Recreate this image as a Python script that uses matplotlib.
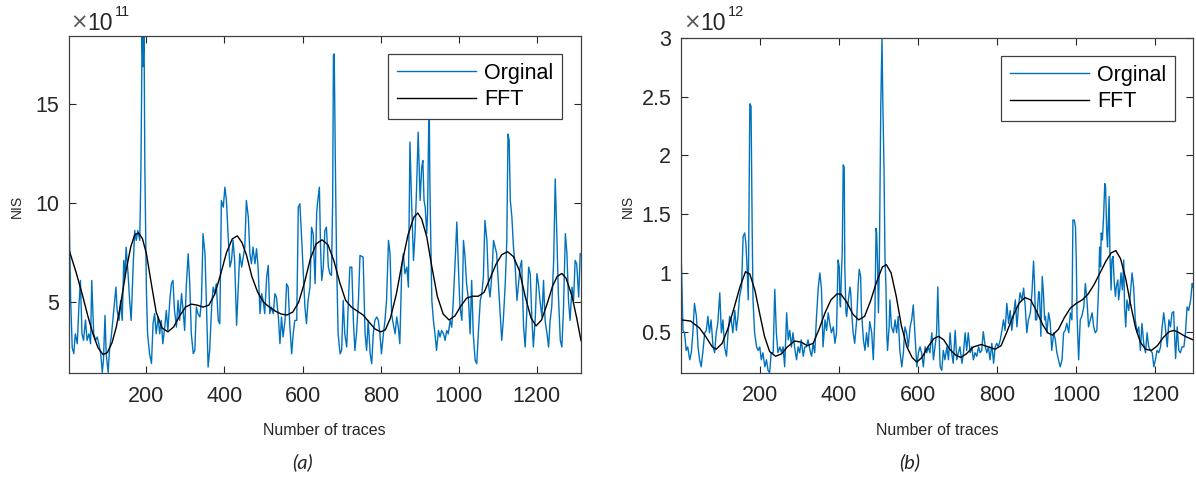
import matplotlib
matplotlib.use("Agg")
import matplotlib.pyplot as plt
from matplotlib import font_manager

# ---------------- data (panel a: units of 1e11, panel b: units of 1e12) ----------------
orig_a = [(1, 11.2), (3, 8.4), (6, 5.1), (10, 2.7), (14, 2.4), (18, 3.4), (23, 2.9), (27, 4.75), (31, 6.1), (35, 3.4),
          (39, 3.07), (44, 4.1), (48, 3.07), (53, 3.4), (57, 2.9), (60, 6.1), (65, 3.4), (70, 3.07), (74, 3.24), (78, 2.9),
          (83, 2.4), (87, 1.45), (90, 2.06), (94, 4.33), (97, 2.4), (102, 1.45), (106, 2.73), (110, 3.24), (114, 4.08), (119, 5.09),
          (122, 5.76), (125, 4.58), (130, 4.08), (134, 5.09), (138, 4.08), (142, 7.11), (145, 6.27), (148, 7.78), (153, 6.44), (157, 5.09),
          (161, 4.08), (166, 6.78), (170, 8.62), (174, 8.12), (178, 8.62), (183, 8.12), (186, 11.8), (189, 18.5), (191, 16.9), (194, 18.5),
          (196, 11.8), (200, 5.6), (203, 3.4), (208, 2.4), (213, 1.9), (217, 3.91), (221, 4.42), (225, 3.4), (230, 4.25), (234, 3.4),
          (238, 4.08), (242, 2.9), (247, 3.74), (251, 4.58), (255, 3.57), (260, 5.09), (264, 5.93), (268, 6.1), (272, 4.58), (277, 3.74),
          (281, 5.09), (285, 4.08), (290, 5.43), (294, 4.58), (298, 3.57), (302, 5.76), (307, 7.45), (311, 5.93), (315, 3.4), (320, 2.4),
          (324, 2.56), (328, 4.75), (332, 4.42), (337, 4.25),
          (341, 5.09), (345, 8.46), (350, 7.45), (354, 4.75), (358, 1.72), (362, 2.56), (367, 4.75), (371, 5.76), (375, 5.43), (379, 5.93),
          (384, 4.08), (388, 3.91), (392, 10.14), (397, 9.8), (401, 10.81), (405, 10.14), (409, 8.46), (414, 6.77), (418, 7.11), (422, 8.12),
          (426, 7.11), (431, 3.83), (435, 5.59), (439, 7.45), (444, 6.77), (448, 7.28), (452, 7.78), (456, 10.14), (461, 9.3), (465, 7.45),
          (469, 6.94), (473, 7.78), (478, 6.94), (482, 7.7), (486, 6.77), (491, 4.42), (495, 5.43), (499, 5.09), (503, 4.42), (508, 6.27),
          (512, 6.86), (516, 4.42), (520, 4.75), (525, 4.42), (529, 5.43), (533, 5.26), (538, 4.25), (542, 2.9), (546, 4.25), (550, 3.24),
          (555, 4.08), (559, 5.93), (563, 5.76), (567, 3.91), (572, 2.39), (576, 3.4), (580, 4.08), (585, 4.08), (589, 9.8), (593, 9.97),
          (597, 8.46), (602, 6.44), (606, 4.75), (610, 3.91), (614, 5.09), (619, 5.76), (623, 8.79), (627, 8.46), (632, 5.93), (636, 9.47),
          (638, 9.97), (643, 10.81), (646, 7.78), (649, 6.1), (653, 6.77), (657, 8.62), (661, 8.79), (666, 6.77), (670, 6.44), (674, 6.35),
          (677, 10.14), (679, 17.46), (681, 17.55), (684, 11.82), (687, 7.11), (691, 3.4), (696, 2.39), (700, 2.56), (704, 5.09), (708, 3.4),
          (713, 2.73), (717, 4.92), (721, 6.77), (726, 6.77), (730, 4.08), (734, 2.56), (738, 3.4), (743, 5.09),
          (747, 7.36), (755, 7.28), (760, 3.4), (764, 2.56), (768, 4.08), (773, 2.39), (777, 1.89), (781, 3.4), (785, 4.08), (790, 4.25),
          (794, 4.08), (798, 3.4), (802, 2.39), (807, 3.4), (811, 4.08), (815, 5.09), (820, 8.12), (824, 7.45), (828, 4.42), (832, 3.91),
          (837, 3.4), (841, 4.25), (845, 3.74), (849, 2.9), (854, 6.77), (858, 7.45), (862, 6.44), (867, 6.77), (871, 5.76), (875, 13.09),
          (879, 10.14), (884, 7.11), (888, 8.46), (892, 10.81), (896, 13.59), (901, 10.14), (905, 11.82), (908, 12.16), (911, 10.14), (914, 9.8),
          (918, 8.46), (920, 9.47), (924, 15.6), (926, 11.0), (928, 8.46), (931, 5.09), (935, 4.08), (939, 3.4), (943, 2.56), (948, 3.57),
          (952, 3.24), (956, 3.57), (961, 3.4), (965, 3.07), (969, 3.57), (973, 3.4), (978, 4.08), (982, 3.74), (986, 5.09), (990, 6.77),
          (995, 9.05), (999, 6.77), (1003, 4.75), (1008, 4.08), (1012, 8.12), (1016, 7.28), (1020, 5.93), (1025, 5.09), (1029, 3.4), (1033, 6.1),
          (1037, 3.4), (1042, 2.06), (1046, 1.89), (1050, 3.4), (1055, 5.09), (1059, 5.43), (1063, 6.27), (1067, 9.13), (1072, 8.12), (1076, 5.93),
          (1080, 5.26), (1085, 6.44), (1089, 8.12), (1093, 7.78), (1097, 7.45), (1102, 5.76), (1106, 4.42), (1110, 3.07), (1114, 4.08), (1119, 5.93),
          (1123, 8.12), (1126, 13.5), (1129, 13.17), (1132, 10.14), (1136, 9.3), (1140, 7.78), (1144, 6.94), (1149, 5.09), (1153, 5.93), (1157, 6.77),
          (1161, 7.11), (1166, 3.74), (1170, 2.73), (1174, 4.42), (1179, 6.77), (1183, 6.44), (1187, 4.25), (1191, 2.73), (1196, 4.25), (1200, 6.44),
          (1204, 5.93), (1208, 5.09), (1213, 4.25), (1217, 6.1), (1221, 4.08), (1226, 3.4), (1230, 2.73), (1234, 4.08), (1238, 4.75), (1243, 7.11),
          (1247, 11.23), (1251, 8.46), (1255, 5.43), (1260, 3.07), (1264, 2.73), (1268, 4.58), (1273, 8.46), (1277, 7.45), (1281, 5.09), (1285, 4.08),
          (1290, 5.76), (1294, 5.09), (1298, 7.11), (1302, 6.94), (1307, 5.26), (1311, 7.45)]

fft_a = [(1, 7.7), (20, 6.5), (37, 5.3), (50, 4.3), (63, 3.4), (76, 2.7), (89, 2.35), (100, 2.45), (112, 2.95), (123, 3.75),
         (135, 5.0), (148, 6.6), (160, 7.8), (170, 8.4), (180, 8.5), (190, 8.2), (200, 7.45), (212, 6.0), (225, 4.5), (240, 3.7),
         (255, 3.5), (270, 3.75), (285, 4.3), (300, 4.75), (315, 4.9), (330, 4.85), (345, 4.75), (360, 4.85), (375, 5.4), (390, 6.4),
         (405, 7.5), (420, 8.2), (433, 8.35), (445, 8.0), (456, 7.4), (470, 6.3), (485, 5.5), (500, 5.0), (515, 4.75), (530, 4.55),
         (545, 4.4), (560, 4.35), (575, 4.5), (590, 5.0), (605, 6.0), (620, 7.2), (635, 7.95), (650, 8.15), (665, 7.9), (680, 7.1),
         (695, 6.0), (710, 5.1), (725, 4.75), (740, 4.55), (755, 4.35), (770, 4.0), (785, 3.65), (800, 3.5), (812, 3.6), (825, 4.2),
         (840, 5.4), (855, 7.0), (870, 8.4), (885, 9.3), (895, 9.5), (905, 9.2), (918, 8.3), (930, 6.9), (945, 5.3), (960, 4.4),
         (975, 4.1), (990, 4.3), (1005, 4.8), (1020, 5.2), (1035, 5.3), (1050, 5.3), (1065, 5.5), (1080, 6.2), (1095, 6.9), (1110, 7.4),
         (1125, 7.55), (1140, 7.3), (1155, 6.6), (1170, 5.3), (1185, 4.2), (1198, 3.8), (1212, 4.1), (1226, 4.9), (1240, 5.8), (1252, 6.3),
         (1264, 6.45), (1275, 6.2), (1290, 5.3), (1302, 4.2), (1313, 3.05)]

orig_b = [(2, 1.08), (6, 0.51), (10, 0.49), (14, 0.34), (18, 0.37), (23, 0.26), (27, 0.32), (31, 0.49), (35, 0.74), (40, 0.63),
          (44, 0.37), (48, 0.26), (52, 0.20), (56, 0.32), (61, 0.49), (65, 0.51), (69, 0.63), (73, 0.49), (77, 0.60), (82, 0.37),
          (86, 0.32), (90, 0.49), (94, 0.57), (99, 0.83), (103, 0.49), (107, 0.60), (111, 0.37), (116, 0.29), (120, 0.49), (124, 0.63),
          (128, 0.60), (132, 0.49), (137, 0.68), (141, 0.51), (145, 0.63), (149, 0.80), (154, 0.88), (158, 1.31), (162, 1.34), (165, 1.25),
          (168, 1.05), (171, 0.77), (175, 2.44), (178, 2.42), (181, 1.34), (183, 0.77), (187, 0.49), (192, 0.37), (196, 0.34), (200, 0.37),
          (204, 0.26), (208, 0.32), (213, 0.20), (217, 0.26), (221, 0.17), (225, 0.15), (229, 0.32), (234, 0.32), (238, 0.86), (242, 0.49),
          (246, 0.32), (251, 0.37), (255, 0.32), (259, 0.37), (263, 0.20), (268, 0.66), (272, 0.43), (276, 0.51), (280, 0.37), (284, 0.49),
          (288, 0.37), (293, 0.26), (297, 0.37), (301, 0.32), (305, 0.43), (310, 0.29), (314, 0.37), (318, 0.37), (322, 0.43), (327, 0.34),
          (331, 0.29), (335, 0.40), (339, 0.32), (343, 0.60), (348, 0.88), (352, 1.0),
          (356, 0.86), (360, 0.37), (365, 0.60), (369, 0.51), (373, 0.66), (377, 0.57), (381, 0.49), (386, 0.54), (390, 0.40), (394, 0.49),
          (398, 1.11), (401, 1.05), (402.5, 0.77), (404, 0.71), (407, 1.05), (408.5, 1.17), (411, 1.92), (413.5, 1.9), (415, 1.05), (418, 0.66),
          (419.5, 0.63), (424, 0.77), (428, 0.88), (430, 0.83), (433, 0.63), (436, 0.49), (440, 0.40), (445, 0.60), (449, 0.91), (451.5, 1.03),
          (455, 0.97), (457, 0.68), (462, 0.43), (466, 0.34), (470, 0.49), (474, 0.37), (478, 0.585), (483, 0.49), (487, 0.26), (491, 0.63),
          (494, 1.38), (495.5, 1.34), (498, 1.05), (500, 0.66), (502, 1.0), (504, 1.735), (506, 2.445), (509, 3.0), (511, 2.47), (514, 1.905),
          (516.5, 1.14), (519, 0.88), (521, 0.49), (523, 0.34), (527, 0.54), (529, 0.77), (533, 0.54), (538, 0.49), (542, 0.60), (546, 0.49),
          (550, 0.63), (554, 0.34), (559, 0.20), (563, 0.32), (567, 0.54), (571, 0.49), (575.5, 0.37), (580, 0.54), (584, 0.60), (588, 0.727),
          (592, 0.49), (597, 0.20), (601, 0.32), (605, 0.37), (609, 0.32), (613.5, 0.20), (618, 0.37), (622, 0.32), (626, 0.37), (630, 0.32),
          (635, 0.49), (639, 0.26), (643, 0.37), (647, 0.49), (650, 0.88), (652, 0.60), (656, 0.20), (660, 0.17), (664, 0.34), (668, 0.26),
          (673, 0.37), (677, 0.26), (681, 0.49), (685, 0.32), (689, 0.23), (694, 0.51), (698, 0.26), (702, 0.32), (706, 0.37), (711, 0.23),
          (715, 0.32), (719, 0.49), (723, 0.34), (727, 0.49), (732, 0.32), (736, 0.37), (740, 0.26), (744, 0.32), (748.5, 0.29), (753, 0.37),
          (757, 0.32), (761, 0.34), (765, 0.50), (770, 0.37), (774, 0.32), (778, 0.37), (782, 0.26), (786.5, 0.40), (791, 0.23), (795, 0.37),
          (799, 0.40), (803, 0.37),
          (808, 0.43), (812, 0.51), (816, 0.60), (820, 0.51), (824.5, 0.74), (829, 0.57), (833, 0.68), (837, 0.51), (841, 0.63), (846, 0.77),
          (850, 0.54), (854, 0.71), (858, 0.83), (862.5, 0.77), (867, 0.87), (871, 0.71), (875, 0.49), (879, 0.60), (884, 0.66), (888, 0.83),
          (892, 1.10), (894.5, 0.91), (897, 0.60), (900, 0.60), (905, 0.84), (907, 0.83), (910.5, 0.46), (914, 0.97), (917, 0.83), (920, 0.60),
          (922, 0.63), (926, 0.49), (930, 0.66), (934, 0.585), (938, 0.34), (943, 0.49), (947, 0.43), (951, 0.32), (955, 0.26), (959.5, 0.20),
          (964, 0.26), (968, 0.49), (972, 0.51), (976, 0.57), (981, 0.49), (985, 0.66), (989, 0.60), (991.5, 1.45), (995, 1.45), (998, 1.39),
          (1000, 1.11), (1002, 0.63), (1006, 0.26), (1010, 0.60), (1014, 0.63), (1019, 0.71), (1023, 0.91), (1027, 0.77), (1031, 0.54), (1035.5, 0.60),
          (1040, 0.66), (1044, 0.54), (1048, 0.49), (1052, 0.51), (1056.5, 0.88), (1059, 1.22), (1061.5, 1.05), (1063, 1.34), (1066, 1.28), (1069, 1.48),
          (1072, 1.76), (1074, 1.735), (1077, 1.34), (1079, 1.22), (1083, 1.65), (1085, 1.17), (1088, 0.855), (1090, 1.11), (1093, 1.14), (1096, 0.91),
          (1099, 0.80), (1101, 0.88), (1105, 0.94), (1107, 0.77), (1110, 0.855), (1113, 1.0), (1116.5, 0.855), (1120, 1.11), (1122, 0.71), (1125, 0.54),
          (1128, 0.77), (1132.5, 0.68), (1137, 0.83), (1141, 1.0), (1145, 0.88), (1149, 0.60), (1154, 0.49), (1158, 0.54), (1162, 0.34), (1166, 0.57),
          (1170.5, 0.40), (1175, 0.32), (1179, 0.49), (1183, 0.37), (1187, 0.34), (1192, 0.32), (1196, 0.20), (1200, 0.26), (1204, 0.34), (1208.5, 0.32),
          (1213, 0.37), (1217, 0.54), (1221, 0.66), (1225, 0.54), (1230, 0.37), (1234, 0.60), (1238, 0.54), (1242, 0.66), (1246, 0.67), (1251, 0.27),
          (1255, 0.54), (1259, 0.34), (1263, 0.32), (1267.5, 0.37), (1272, 0.37), (1276, 0.49), (1280, 0.71), (1284, 0.68), (1289, 0.77), (1293, 0.91),
          (1295, 0.88)]

fft_b = [(1, 0.60), (25, 0.59), (48, 0.53), (65, 0.45), (80, 0.37), (90, 0.35), (105, 0.40), (120, 0.53), (135, 0.70), (150, 0.88),
         (164, 1.01), (175, 0.99), (188, 0.85), (200, 0.65), (212, 0.46), (225, 0.33), (240, 0.29), (255, 0.31), (270, 0.37), (288, 0.42),
         (305, 0.41), (320, 0.38), (335, 0.40), (350, 0.52), (365, 0.66), (380, 0.77), (395, 0.82), (405, 0.82), (420, 0.75), (435, 0.65),
         (450, 0.60), (465, 0.63), (480, 0.76), (495, 0.92), (510, 1.05), (520, 1.07), (532, 1.0), (545, 0.80), (558, 0.55), (572, 0.37),
         (585, 0.28), (597, 0.24), (610, 0.28), (625, 0.37), (640, 0.44), (652, 0.46), (665, 0.43), (680, 0.35), (695, 0.30), (708, 0.28),
         (722, 0.31), (740, 0.37), (760, 0.39), (778, 0.37), (795, 0.35), (810, 0.38), (825, 0.50), (840, 0.63), (855, 0.74), (870, 0.79),
         (885, 0.77), (900, 0.67), (915, 0.56), (928, 0.49), (940, 0.47), (955, 0.52), (970, 0.62), (985, 0.70), (1000, 0.74), (1015, 0.77),
         (1030, 0.82), (1045, 0.90), (1060, 1.0), (1075, 1.10), (1088, 1.17), (1100, 1.19), (1112, 1.12), (1125, 0.95), (1138, 0.72), (1150, 0.53),
         (1162, 0.41), (1175, 0.35), (1190, 0.34), (1205, 0.38), (1220, 0.45), (1235, 0.50), (1248, 0.51), (1260, 0.49), (1275, 0.46), (1295, 0.43)]

xticks = [200, 400, 600, 800, 1000, 1200]
yticks_a = [5, 10, 15]
yticks_b = [0.5, 1, 1.5, 2, 2.5, 3]
ytick_labels_b = ["0.5", "1", "1.5", "2", "2.5", "3"]
legend_labels = ["Orginal", "FFT"]
exponents = ["11", "12"]

# ---------------- styling ----------------
names = {f.name for f in font_manager.fontManager.ttflist}
MAIN = "Liberation Sans"
NARROW = "Liberation Sans Narrow" if "Liberation Sans Narrow" in names else "Liberation Sans"
CAP = "Lato" if "Lato" in names else "DejaVu Sans"
plt.rcParams["font.family"] = [MAIN, "DejaVu Sans"]

BLUE = "#0072BD"
DARK = "#262626"
W, H = 1196, 486

fig = plt.figure(figsize=(W / 100, H / 100), dpi=100)

def px_rect(l, t, r, b):
    return [l / W, 1 - b / H, (r - l) / W, (b - t) / H]

ax_a = fig.add_axes(px_rect(68.7, 36, 581, 373))
ax_b = fig.add_axes(px_rect(681, 38, 1193, 372.7))

panels = [
    (ax_a, orig_a, fft_a, (1, 1313), (1.42, 18.45), yticks_a, [str(t) for t in yticks_a], (0.963, 0.947)),
    (ax_b, orig_b, fft_b, (1, 1295), (0.15, 3.0), yticks_b, ytick_labels_b, (0.965, 0.947)),
]

for ax, orig, fft, xl, yl, yt, ytl, anchor in panels:
    ox, oy = zip(*orig)
    fx, fy = zip(*fft)
    ax.plot(ox, oy, color=BLUE, lw=1.0, label=legend_labels[0])
    ax.plot(fx, fy, color="black", lw=1.0, label=legend_labels[1])
    ax.set_xlim(*xl)
    ax.set_ylim(*yl)
    ax.set_xticks(xticks)
    ax.set_yticks(yt)
    ax.set_yticklabels(ytl)
    ax.tick_params(direction="in", length=5, width=0.8, top=True, right=True,
                   labelsize=15.5, colors=DARK)
    ax.tick_params(axis="x", pad=9)
    ax.tick_params(axis="y", pad=7)
    for s in ax.spines.values():
        s.set_color("#404040")
        s.set_linewidth(0.9)
    leg = ax.legend(loc="upper right", bbox_to_anchor=anchor, borderaxespad=0,
                    fontsize=15.5, handlelength=3.7, handletextpad=0.35,
                    borderpad=0.42, labelspacing=0.25, fancybox=False,
                    framealpha=1, edgecolor="#404040")
    leg.get_frame().set_linewidth(0.9)
    for t in leg.get_texts():
        t.set_color("black")

# y labels "NIS"
fig.text(17 / W, 1 - 206 / H, "NIS", rotation=90, ha="center", va="center",
         fontsize=10, color=DARK)
fig.text(628 / W, 1 - 206 / H, "NIS", rotation=90, ha="center", va="center",
         fontsize=10, color=DARK)

# x labels
for cx in (324.5, 937):
    fig.text(cx / W, 1 - 430 / H, "Number of traces", ha="center", va="center",
             fontsize=11.5, color=DARK, family=[NARROW, "DejaVu Sans"])

# exponent labels (MATLAB-style "x10^n" above the y axis)
for x0, exp in zip((70, 683), exponents):
    fig.text(x0 / W, 1 - 29 / H, "\u00d7", ha="left", va="baseline",
             fontsize=15, color="#555555", family=["DejaVu Sans"])
    fig.text((x0 + 17) / W, 1 - 30 / H, "10", ha="left", va="baseline",
             fontsize=16.5, color=DARK)
    fig.text((x0 + 45) / W, 1 - 15.5 / H, exp, ha="left", va="baseline",
             fontsize=10.5, color=DARK)

# captions
fig.text(303 / W, 1 - 462 / H, "(a)", ha="center", va="center", fontsize=14.5,
         style="italic", color=DARK, family=[CAP, "DejaVu Sans"])
fig.text(910 / W, 1 - 462 / H, "(b)", ha="center", va="center", fontsize=14.5,
         style="italic", color=DARK, family=[CAP, "DejaVu Sans"])

fig.savefig("out.png", dpi=100)
